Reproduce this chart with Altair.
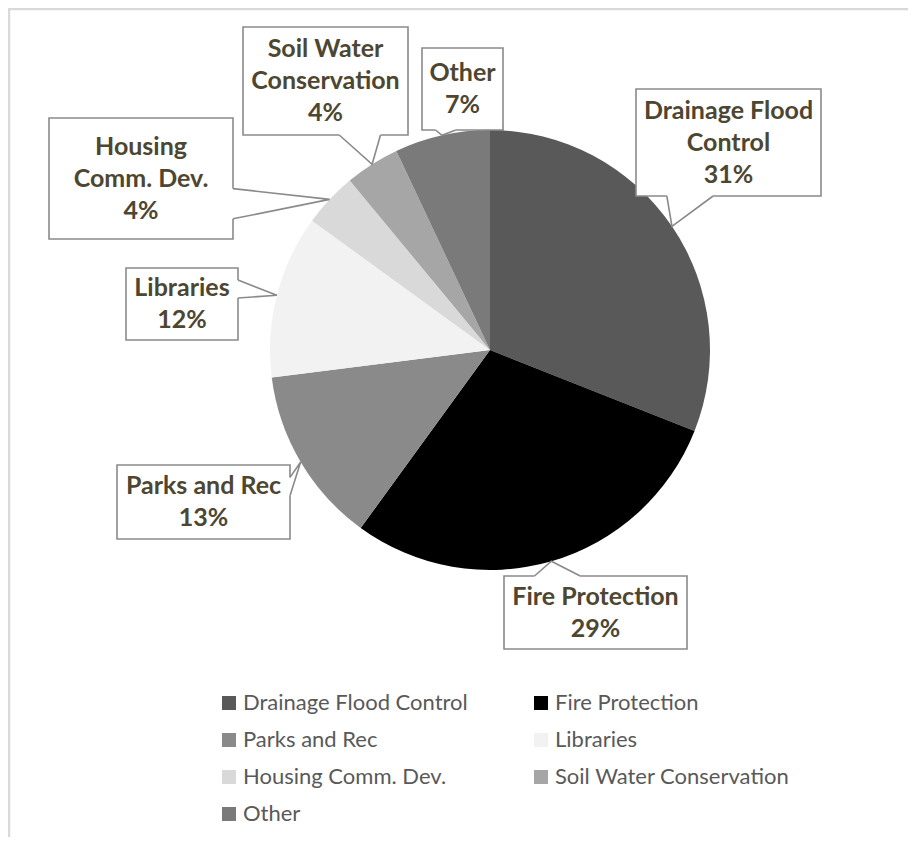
import math
import altair as alt
import pandas as pd

# ---- data ----
categories = ["Drainage Flood Control", "Fire Protection", "Parks and Rec", "Libraries",
              "Housing Comm. Dev.", "Soil Water Conservation", "Other"]
shares = [31, 29, 13, 12, 4, 4, 7]
label_lines = [["Drainage Flood", "Control"], ["Fire Protection"], ["Parks and Rec"],
               ["Libraries"], ["Housing", "Comm. Dev."], ["Soil Water", "Conservation"], ["Other"]]

# ---- style / layout ----
colors = ["#595959", "#000000", "#8a8a8a", "#f2f2f2", "#d9d9d9", "#a6a6a6", "#7a7a7a"]
W, H = 900, 829
R = 220  # pie radius in px
LINE_H = 32
# callout boxes: (left, right, bottom, top) in px relative to pie centre, y up
box_extents = [
    (146, 331, 154, 261),
    (14, 197, -299, -226),
    (-373, -200, -189, -115),
    (-364, -252, 10, 82),
    (-441, -257, 111, 232),
    (-247, -82, 215, 323),
    (-68, 13, 220, 302),
]
XD = [-482, 418]
YD = [-487, 342]
LABEL_COLOR = "#4d4630"
BOX_STROKE = "#8a8a8a"

xs = alt.Scale(domain=XD, range=[0, W], nice=False, zero=False)
ys = alt.Scale(domain=YD, range=[H, 0], nice=False, zero=False)

# legend lays entries out column by column (4 rows): reorder so it reads row by row
n_rows = 4
legend_order = []
for c in range(2):
    for r in range(n_rows):
        k = r * 2 + c
        if k < len(categories):
            legend_order.append(k)
legend_domain = [categories[k] for k in legend_order]
legend_range = [colors[k] for k in legend_order]

# pie data
pie_df = pd.DataFrame({"category": categories, "share": shares,
                       "idx": list(range(len(categories))), "cx": 0, "cy": 0})

# callout geometry derived from the slices
total = sum(shares)
box_rows, text_rows, ptr_rows, cover_rows = [], [], [], []
cum = 0
for i, (cat, s) in enumerate(zip(categories, shares)):
    mid = (cum + s / 2) / total * 2 * math.pi
    cum += s
    tx, ty = R * math.sin(mid), R * math.cos(mid)
    x0, x1, y0, y1 = box_extents[i]
    box_rows.append({"x": x0, "x2": x1, "y": y0, "y2": y1})
    lines = label_lines[i] + [f"{s}%"]
    text_rows.append({"x": (x0 + x1) / 2,
                      "y": (y0 + y1) / 2 + (len(lines) - 1) * LINE_H / 2,
                      "t": "\n".join(lines)})
    if x0 <= tx <= x1:
        ye = y0 if ty < y0 else y1
        f = (tx - x0) / (x1 - x0)
        a, b = (1 / 6, 5 / 12) if f < 0.5 else (7 / 12, 5 / 6)
        b1 = (x0 + a * (x1 - x0), ye)
        b2 = (x0 + b * (x1 - x0), ye)
    else:
        xe = x1 if tx > x1 else x0
        f = (y1 - ty) / (y1 - y0)
        a, b = (1 / 6, 5 / 12) if f < 0.5 else (7 / 12, 5 / 6)
        b1 = (xe, y1 - a * (y1 - y0))
        b2 = (xe, y1 - b * (y1 - y0))
    for k, p in enumerate([b1, (tx, ty), b2]):
        ptr_rows.append({"g": i, "o": k, "x": p[0], "y": p[1]})
    cover_rows.append({"x": b1[0], "x2": b2[0], "y": b1[1], "y2": b2[1]})

box_df = pd.DataFrame(box_rows)
text_df = pd.DataFrame(text_rows)
ptr_df = pd.DataFrame(ptr_rows)
cover_df = pd.DataFrame(cover_rows)
whole_df = pd.DataFrame({"share": [1], "cx": [0], "cy": [0]})


def halo_layer(rad, op):
    return alt.Chart(whole_df).mark_arc(radius=rad, color="#000000", opacity=op).encode(
        x=alt.X("cx:Q", scale=xs, axis=None),
        y=alt.Y("cy:Q", scale=ys, axis=None),
        theta=alt.Theta("share:Q"),
    )


halos = [halo_layer(R + 7, 0.035), halo_layer(R + 5, 0.045), halo_layer(R + 3, 0.06),
         halo_layer(R + 1.5, 0.08)]

pie = alt.Chart(pie_df).mark_arc(radius=R).encode(
    x=alt.X("cx:Q", scale=xs, axis=None),
    y=alt.Y("cy:Q", scale=ys, axis=None),
    theta=alt.Theta("share:Q", stack=True),
    order=alt.Order("idx:Q"),
    color=alt.Color(
        "category:N",
        scale=alt.Scale(domain=legend_domain, range=legend_range),
        sort=legend_domain,
        legend=alt.Legend(
            title=None, orient="none", legendX=210, legendY=684, columns=2,
            columnPadding=62, rowPadding=15, padding=0,
            symbolType="square", symbolSize=196, symbolStrokeWidth=0,
            labelFont="Lato", labelFontSize=22, labelColor="#595959", labelOffset=3,
            labelLimit=400,
        ),
    ),
)

boxes = alt.Chart(box_df).mark_rect(fill="white", stroke=BOX_STROKE, strokeWidth=1.6).encode(
    x=alt.X("x:Q", scale=xs, axis=None), x2="x2:Q",
    y=alt.Y("y:Q", scale=ys, axis=None), y2="y2:Q",
)

covers = alt.Chart(cover_df).mark_rule(color="white", strokeWidth=3).encode(
    x=alt.X("x:Q", scale=xs, axis=None), x2="x2:Q",
    y=alt.Y("y:Q", scale=ys, axis=None), y2="y2:Q",
)

pointers = alt.Chart(ptr_df).mark_line(color=BOX_STROKE, strokeWidth=1.6).encode(
    x=alt.X("x:Q", scale=xs, axis=None),
    y=alt.Y("y:Q", scale=ys, axis=None),
    detail="g:N",
    order="o:Q",
)

texts = alt.Chart(text_df).mark_text(
    font="Lato", fontWeight="bold", fontSize=25, color=LABEL_COLOR,
    lineBreak="\n", lineHeight=LINE_H, align="center", baseline="middle",
).encode(
    x=alt.X("x:Q", scale=xs, axis=None),
    y=alt.Y("y:Q", scale=ys, axis=None),
    text="t:N",
)

border_left = alt.Chart(whole_df).mark_rule(color="#d9d9d9", strokeWidth=2.5).encode(
    x=alt.value(1), y=alt.value(0), y2=alt.value(H))
border_top = alt.Chart(whole_df).mark_rule(color="#d9d9d9", strokeWidth=2.5).encode(
    x=alt.value(0), x2=alt.value(W), y=alt.value(1))

chart = alt.layer(*halos, pie, boxes, covers, pointers, texts, border_left, border_top).properties(
    width=W, height=H, padding=0, autosize=alt.AutoSizeParams(type="none"),
    background="white",
).configure_view(stroke=None)

chart.save("out.html", embed_options={"renderer": "svg", "actions": False})
